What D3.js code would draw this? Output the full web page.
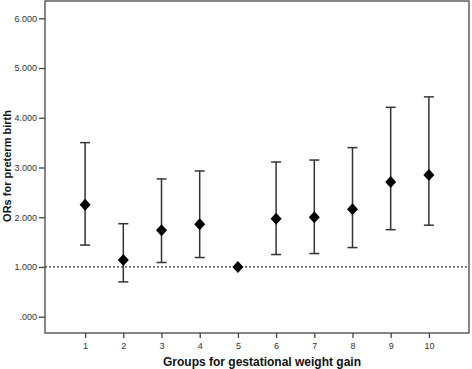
<!DOCTYPE html>
<html><head><meta charset="utf-8">
<script src="https://cdn.jsdelivr.net/npm/d3@7"></script>
<style>body{margin:0;background:#fff}svg{display:block}</style>
</head><body>
<svg id="c" width="472" height="369"></svg>
<script>
const groups = [1,2,3,4,5,6,7,8,9,10];
const ors   = [2.25,1.14,1.74,1.86,1.00,1.97,2.00,2.16,2.71,2.85];
const lower = [1.44,0.70,1.09,1.19,null,1.25,1.27,1.39,1.75,1.84];
const upper = [3.50,1.87,2.77,2.93,null,3.11,3.15,3.40,4.21,4.42];
const yTicks = [0,1,2,3,4,5,6];
const yTickLabels = [".000","1.000","2.000","3.000","4.000","5.000","6.000"];
const refValue = 1;

const svg = d3.select("#c");
const L=45, R=469, T=1, B=333;
const x = d3.scaleLinear().domain([-0.05,11.05]).range([L,R]);
const y = d3.scaleLinear().domain([0,6]).range([316.7,18.3]);
const axisCol="#444";

// frame
svg.append("rect").attr("x",L).attr("y",T).attr("width",R-L).attr("height",B-T)
  .attr("fill","none").attr("stroke",axisCol).attr("stroke-width",1.3);

// y axis
const ya = svg.append("g").attr("transform",`translate(${L},0)`)
  .call(d3.axisLeft(y).tickValues(yTicks).tickSize(6).tickFormat((d,i)=>yTickLabels[i]));
ya.select(".domain").remove();
ya.selectAll("line").attr("stroke",axisCol).attr("stroke-width",1.3);
ya.selectAll("text").attr("font-family","Arial, Liberation Sans, sans-serif").attr("font-size",9).attr("fill","#333").attr("dx",1);

// x axis
const xa = svg.append("g").attr("transform",`translate(0,${B})`)
  .call(d3.axisBottom(x).tickValues(groups).tickSize(5).tickFormat(d3.format("d")));
xa.select(".domain").remove();
xa.selectAll("line").attr("stroke",axisCol).attr("stroke-width",1.3);
xa.selectAll("text").attr("font-family","Arial, Liberation Sans, sans-serif").attr("font-size",9).attr("fill","#333").attr("dy","0.9em");

// reference line
svg.append("line").attr("x1",L).attr("x2",R).attr("y1",y(refValue)).attr("y2",y(refValue))
  .attr("stroke","#333").attr("stroke-width",1.2).attr("stroke-dasharray","2,2");

// error bars
const data = groups.map((g,i)=>({g,or:ors[i],lo:lower[i],hi:upper[i]}));
const eb = svg.append("g").attr("stroke","#333").attr("stroke-width",1.5);
data.filter(d=>d.lo!=null).forEach(d=>{
  eb.append("line").attr("x1",x(d.g)).attr("x2",x(d.g)).attr("y1",y(d.lo)).attr("y2",y(d.hi));
  eb.append("line").attr("x1",x(d.g)-5).attr("x2",x(d.g)+5).attr("y1",y(d.lo)).attr("y2",y(d.lo));
  eb.append("line").attr("x1",x(d.g)-5).attr("x2",x(d.g)+5).attr("y1",y(d.hi)).attr("y2",y(d.hi));
});

// diamonds
svg.append("g").selectAll("path").data(data).join("path")
  .attr("transform",d=>`translate(${x(d.g)},${y(d.or)})`)
  .attr("d","M0,-6L5.5,0L0,6L-5.5,0Z").attr("fill","#000");

// titles
svg.append("text").attr("x",262).attr("y",366).attr("text-anchor","middle")
  .attr("font-family","Arial, Liberation Sans, sans-serif").attr("font-weight","bold").attr("font-size",12)
  .attr("fill","#111").text("Groups for gestational weight gain");
svg.append("text").attr("transform","translate(11,166) rotate(-90)").attr("text-anchor","middle")
  .attr("font-family","Arial, Liberation Sans, sans-serif").attr("font-weight","bold").attr("font-size",11)
  .attr("fill","#111").text("ORs for preterm birth");
</script>
</body></html>
